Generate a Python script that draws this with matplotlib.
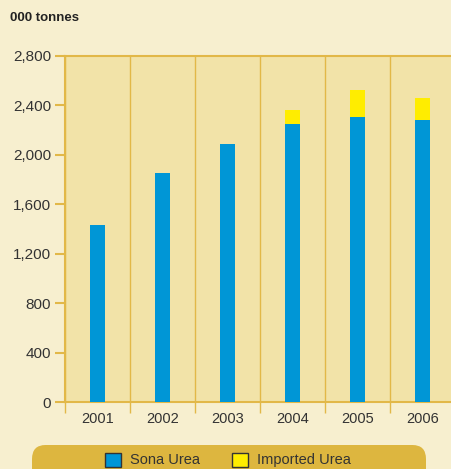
import matplotlib
matplotlib.use("Agg")
from matplotlib import pyplot as plt
from matplotlib.patches import FancyBboxPatch, Patch

years = ["2001", "2002", "2003", "2004", "2005", "2006"]
sona = [1430, 1850, 2090, 2250, 2305, 2280]
imported = [0, 0, 0, 115, 220, 180]
yticks = [0, 400, 800, 1200, 1600, 2000, 2400, 2800]

gold = "#E2B848"
blue = "#0096D6"
yellow = "#FFED00"

plt.rcParams['font.family'] = ['Liberation Sans', 'DejaVu Sans']

fig = plt.figure(figsize=(4.51, 4.69), dpi=100)
fig.patch.set_facecolor("#F7EFCF")

# axis runs a bit past the right edge, like the original
ax = fig.add_axes([65/451, 1 - 402/469, 390/451, 346/469])
ax.set_facecolor("#F2E3A8")

x = range(len(years))
ax.bar(x, sona, width=0.23, color=blue, zorder=3)
ax.bar(x, imported, width=0.23, bottom=sona, color=yellow, zorder=3)

ax.set_xlim(-0.5, len(years) - 0.5)
ax.set_ylim(0, 2800)
ax.set_yticks(yticks)
ax.set_yticklabels([f"{v:,}" for v in yticks], fontsize=11, color="#333333")

# category boundaries as gridlines
bounds = [i - 0.5 for i in range(len(years) + 1)]
for b in bounds:
    ax.axvline(b, color=gold, lw=1, zorder=1)
ax.set_xticks(bounds)
ax.set_xticklabels([])
ax.set_xticks(list(x), minor=True)
ax.set_xticklabels(years, minor=True, fontsize=10.5, color="#333333")
ax.tick_params(axis="x", which="major", length=8, width=1, color=gold, direction="out")
ax.tick_params(axis="x", which="minor", length=0, pad=7)
ax.tick_params(axis="y", length=7, width=1.5, color=gold, pad=3)

for s in ["top", "bottom", "left"]:
    ax.spines[s].set_color(gold)
    ax.spines[s].set_linewidth(1.5)
ax.spines["right"].set_visible(False)

fig.text(10/451, 1 - 18/469, "000 tonnes", fontsize=9.5, fontweight="bold",
         color="#222222", va="center", ha="left")

# legend band
band = FancyBboxPatch((32/451, 1 - 485/469), 394/451, 40/469,
                      boxstyle="round,pad=0,rounding_size=0.03",
                      transform=fig.transFigure, facecolor="#DDB63F",
                      edgecolor="none", zorder=0)
fig.patches.append(band)
handles = [Patch(facecolor=blue, edgecolor="#333333", label="Sona Urea"),
           Patch(facecolor=yellow, edgecolor="#333333", label="Imported Urea")]
fig.legend(handles=handles, loc="center", bbox_to_anchor=(228/451, 1 - 460/469),
           ncol=2, frameon=False, fontsize=10.5, handlelength=1.1, handleheight=1.1,
           columnspacing=2.2, handletextpad=0.6, labelcolor="#333333")

fig.savefig("out.png", dpi=100, facecolor=fig.get_facecolor())
